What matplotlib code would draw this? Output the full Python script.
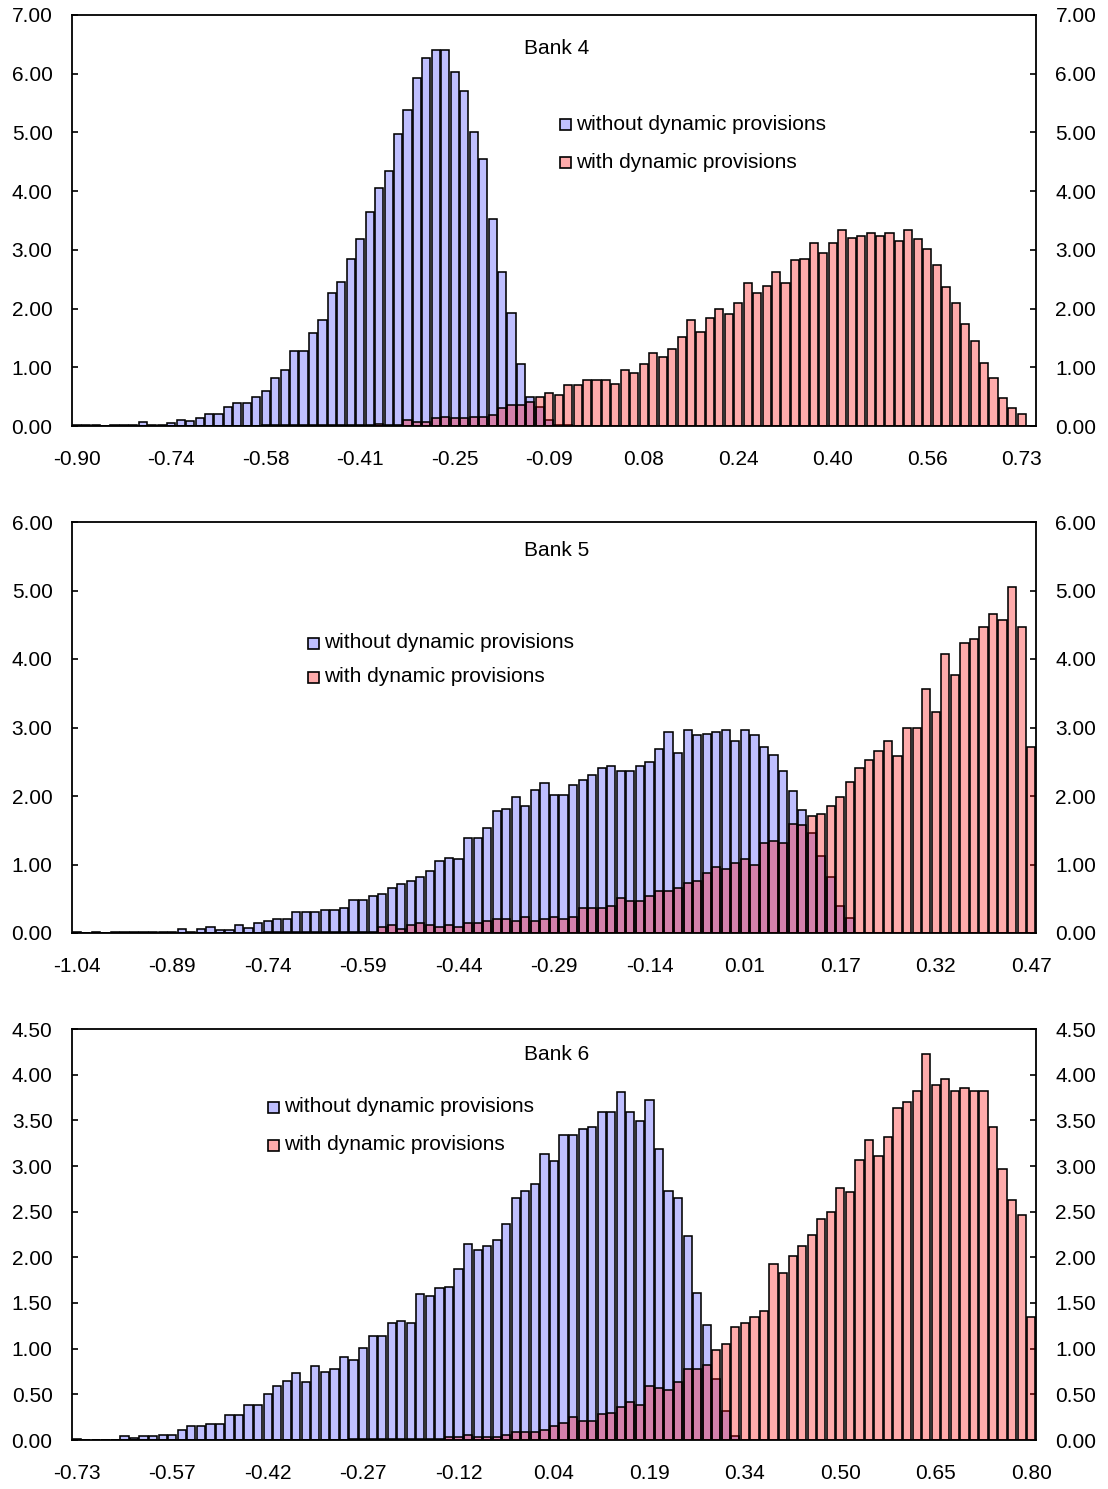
import matplotlib
matplotlib.use("Agg")
import matplotlib.pyplot as plt
from matplotlib.patches import Rectangle

plt.rcParams['font.family'] = ['Liberation Sans', 'DejaVu Sans']

# ---------------- data ----------------
series_names = ["without dynamic provisions", "with dynamic provisions"]

bank4_ticks = ["-0.90", "-0.74", "-0.58", "-0.41", "-0.25", "-0.09",
               "0.08", "0.24", "0.40", "0.56", "0.73"]
bank4_without = [
    0.02, 0.02, 0.02, 0.00, 0.02, 0.02, 0.02, 0.07, 0.02, 0.02,
    0.05, 0.10, 0.09, 0.14, 0.20, 0.20, 0.33, 0.39, 0.39, 0.49,
    0.60, 0.82, 0.95, 1.28, 1.28, 1.58, 1.80, 2.26, 2.46, 2.85,
    3.18, 3.64, 4.06, 4.35, 4.98, 5.38, 5.93, 6.26, 6.41, 6.41,
    6.03, 5.70, 5.01, 4.55, 3.53, 2.62, 1.93, 1.05, 0.49, 0.33,
    0.10, 0.02, 0.02, 0.00, 0.00, 0.00, 0.00, 0.00, 0.00, 0.00,
    0.00, 0.00, 0.00, 0.00, 0.00, 0.00, 0.00, 0.00, 0.00, 0.00,
    0.00, 0.00, 0.00, 0.00, 0.00, 0.00, 0.00, 0.00, 0.00, 0.00,
    0.00, 0.00, 0.00, 0.00, 0.00, 0.00, 0.00, 0.00, 0.00, 0.00,
    0.00, 0.00, 0.00, 0.00, 0.00, 0.00, 0.00, 0.00, 0.00, 0.00,
    0.00, 0.00,
]
bank4_with = [
    0.00, 0.00, 0.00, 0.00, 0.00, 0.00, 0.00, 0.00, 0.00, 0.00,
    0.00, 0.00, 0.00, 0.00, 0.00, 0.00, 0.00, 0.00, 0.00, 0.00,
    0.01, 0.01, 0.01, 0.01, 0.01, 0.01, 0.01, 0.01, 0.01, 0.01,
    0.01, 0.01, 0.03, 0.02, 0.02, 0.10, 0.06, 0.06, 0.13, 0.16,
    0.13, 0.13, 0.16, 0.16, 0.19, 0.30, 0.36, 0.36, 0.41, 0.49,
    0.56, 0.53, 0.69, 0.69, 0.78, 0.78, 0.78, 0.72, 0.95, 0.91,
    1.05, 1.25, 1.18, 1.31, 1.51, 1.80, 1.60, 1.84, 2.00, 1.90,
    2.10, 2.43, 2.26, 2.39, 2.62, 2.43, 2.82, 2.85, 3.11, 2.95,
    3.11, 3.34, 3.21, 3.24, 3.28, 3.24, 3.28, 3.15, 3.34, 3.18,
    3.02, 2.75, 2.36, 2.10, 1.74, 1.44, 1.08, 0.82, 0.47, 0.30,
    0.20, 0.00,
]

bank5_ticks = ["-1.04", "-0.89", "-0.74", "-0.59", "-0.44", "-0.29",
               "-0.14", "0.01", "0.17", "0.32", "0.47"]
bank5_without = [
    0.01, 0.00, 0.01, 0.00, 0.01, 0.01, 0.01, 0.01, 0.01, 0.01,
    0.01, 0.06, 0.01, 0.06, 0.09, 0.05, 0.05, 0.12, 0.08, 0.15,
    0.17, 0.20, 0.20, 0.31, 0.31, 0.31, 0.34, 0.34, 0.37, 0.48,
    0.48, 0.54, 0.57, 0.65, 0.71, 0.76, 0.82, 0.91, 1.05, 1.10,
    1.08, 1.39, 1.39, 1.53, 1.78, 1.81, 1.98, 1.86, 2.09, 2.19,
    2.01, 2.01, 2.16, 2.24, 2.30, 2.41, 2.44, 2.36, 2.36, 2.44,
    2.49, 2.69, 2.94, 2.63, 2.97, 2.89, 2.91, 2.94, 2.97, 2.80,
    2.97, 2.89, 2.72, 2.60, 2.36, 2.07, 1.79, 1.46, 1.12, 0.82,
    0.40, 0.22, 0.00, 0.00, 0.00, 0.00, 0.00, 0.00, 0.00, 0.00,
    0.00, 0.00, 0.00, 0.00, 0.00, 0.00, 0.00, 0.00, 0.00, 0.00,
    0.00,
]
bank5_with = [
    0.00, 0.00, 0.00, 0.00, 0.00, 0.00, 0.00, 0.00, 0.00, 0.00,
    0.00, 0.00, 0.00, 0.00, 0.00, 0.00, 0.00, 0.00, 0.00, 0.00,
    0.01, 0.01, 0.01, 0.01, 0.01, 0.01, 0.01, 0.01, 0.01, 0.01,
    0.01, 0.01, 0.09, 0.12, 0.06, 0.12, 0.15, 0.12, 0.09, 0.12,
    0.09, 0.15, 0.15, 0.18, 0.20, 0.20, 0.18, 0.23, 0.18, 0.20,
    0.23, 0.20, 0.23, 0.37, 0.37, 0.37, 0.40, 0.51, 0.46, 0.46,
    0.54, 0.62, 0.62, 0.65, 0.73, 0.76, 0.88, 0.96, 0.93, 1.02,
    1.08, 0.99, 1.32, 1.35, 1.32, 1.59, 1.57, 1.71, 1.74, 1.85,
    1.99, 2.21, 2.41, 2.52, 2.66, 2.80, 2.58, 3.00, 3.00, 3.56,
    3.23, 4.07, 3.76, 4.24, 4.29, 4.46, 4.66, 4.57, 5.05, 4.46,
    2.72,
]

bank6_ticks = ["-0.73", "-0.57", "-0.42", "-0.27", "-0.12", "0.04",
               "0.19", "0.34", "0.50", "0.65", "0.80"]
bank6_without = [
    0.01, 0.00, 0.00, 0.00, 0.00, 0.04, 0.02, 0.04, 0.04, 0.06,
    0.06, 0.11, 0.15, 0.15, 0.17, 0.17, 0.27, 0.27, 0.38, 0.38,
    0.50, 0.59, 0.65, 0.73, 0.64, 0.81, 0.74, 0.78, 0.91, 0.88,
    1.01, 1.14, 1.14, 1.28, 1.30, 1.28, 1.60, 1.58, 1.66, 1.68,
    1.87, 2.15, 2.08, 2.12, 2.19, 2.36, 2.65, 2.73, 2.80, 3.13,
    3.05, 3.34, 3.34, 3.41, 3.43, 3.59, 3.59, 3.81, 3.59, 3.49,
    3.72, 3.19, 2.73, 2.65, 2.23, 1.61, 1.26, 0.67, 0.32, 0.04,
    0.00, 0.00, 0.00, 0.00, 0.00, 0.00, 0.00, 0.00, 0.00, 0.00,
    0.00, 0.00, 0.00, 0.00, 0.00, 0.00, 0.00, 0.00, 0.00, 0.00,
    0.00, 0.00, 0.00, 0.00, 0.00, 0.00, 0.00, 0.00, 0.00, 0.00,
    0.00,
]
bank6_with = [
    0.00, 0.00, 0.00, 0.00, 0.00, 0.00, 0.00, 0.00, 0.00, 0.00,
    0.00, 0.00, 0.00, 0.00, 0.00, 0.00, 0.00, 0.00, 0.00, 0.00,
    0.00, 0.00, 0.00, 0.00, 0.00, 0.00, 0.00, 0.00, 0.00, 0.01,
    0.01, 0.01, 0.01, 0.01, 0.01, 0.01, 0.01, 0.01, 0.01, 0.03,
    0.03, 0.06, 0.03, 0.03, 0.03, 0.06, 0.09, 0.09, 0.09, 0.11,
    0.15, 0.19, 0.25, 0.21, 0.21, 0.28, 0.30, 0.36, 0.42, 0.38,
    0.59, 0.57, 0.55, 0.64, 0.78, 0.78, 0.82, 0.99, 1.05, 1.24,
    1.28, 1.35, 1.41, 1.93, 1.83, 2.02, 2.12, 2.25, 2.42, 2.50,
    2.76, 2.72, 3.07, 3.28, 3.11, 3.32, 3.64, 3.70, 3.82, 4.23,
    3.89, 3.95, 3.82, 3.85, 3.82, 3.82, 3.43, 2.97, 2.63, 2.46,
    1.35,
]

# ---------------- styling ----------------
BLUE = (0.0, 0.0, 1.0, 0.25)
RED = (1.0, 0.0, 0.0, 0.33)
FS = 15
BAR_W = 0.86
BAR_LW = 1.15

W_PX, H_PX = 1108, 1489
fig = plt.figure(figsize=(W_PX / 100, H_PX / 100), dpi=100)
fig.patch.set_facecolor("white")

AX_LEFT, AX_RIGHT = 72, 1036
AX_H = 411


def make_axes(top_px):
    return fig.add_axes([AX_LEFT / W_PX, 1 - (top_px + AX_H) / H_PX,
                         (AX_RIGHT - AX_LEFT) / W_PX, AX_H / H_PX])


def legend_box(ax, x_px, rows_px, top_px):
    w = AX_RIGHT - AX_LEFT
    sq = 11
    for (name, col, row) in zip(series_names, [BLUE, RED], rows_px):
        xa = (x_px - AX_LEFT) / w
        ya = 1 - (row - top_px) / AX_H
        ax.add_patch(Rectangle((xa, ya - sq / 2 / AX_H), sq / w, sq / AX_H,
                               transform=ax.transAxes, facecolor=col,
                               edgecolor="black", linewidth=1.2,
                               clip_on=False, zorder=5))
        ax.text(xa + 16 / w, ya, name, transform=ax.transAxes,
                fontsize=FS, va="center", ha="left", zorder=5)


def panel(top_px, title, title_px, without, with_, ticks, ymax, ystep,
          leg_x_px, leg_rows_px):
    ax = make_axes(top_px)
    n = len(without)
    idx = list(range(n))
    ax.bar(idx, without, width=BAR_W, color=BLUE, edgecolor="black",
           linewidth=BAR_LW, zorder=2)
    ax.bar(idx, with_, width=BAR_W, color=RED, edgecolor="black",
           linewidth=BAR_LW, zorder=3)
    ax.set_xlim(-0.5, n - 0.5)
    ax.set_ylim(0, ymax)

    nticks = round(ymax / ystep)
    yt = [k * ystep for k in range(nticks + 1)]
    ax.set_yticks(yt)
    ax.set_yticklabels([f"{v:.2f}" for v in yt])
    ax.set_xticks(list(range(0, 10 * len(ticks), 10)))
    ax.set_xticklabels(ticks)

    ax.tick_params(axis="x", length=0, pad=17, labelsize=FS)
    ax.tick_params(axis="y", direction="in", length=4, width=1.2,
                   labelsize=FS, left=True, right=True,
                   labelleft=True, labelright=True, pad=14)
    for s in ax.spines.values():
        s.set_linewidth(1.3)
        s.set_color("black")

    ax.text((557 - AX_LEFT) / (AX_RIGHT - AX_LEFT),
            1 - (title_px - top_px) / AX_H, title, transform=ax.transAxes,
            fontsize=FS, ha="center", va="center")
    legend_box(ax, leg_x_px, leg_rows_px, top_px)
    return ax


panel(15, "Bank 4", 48, bank4_without, bank4_with, bank4_ticks, 7.0, 1.0,
      560, [124, 162])
panel(522, "Bank 5", 550, bank5_without, bank5_with, bank5_ticks, 6.0, 1.0,
      308, [643, 677])
panel(1029, "Bank 6", 1055, bank6_without, bank6_with, bank6_ticks, 4.5, 0.5,
      268, [1107, 1145])

fig.savefig("out.png", dpi=100, facecolor="white")
